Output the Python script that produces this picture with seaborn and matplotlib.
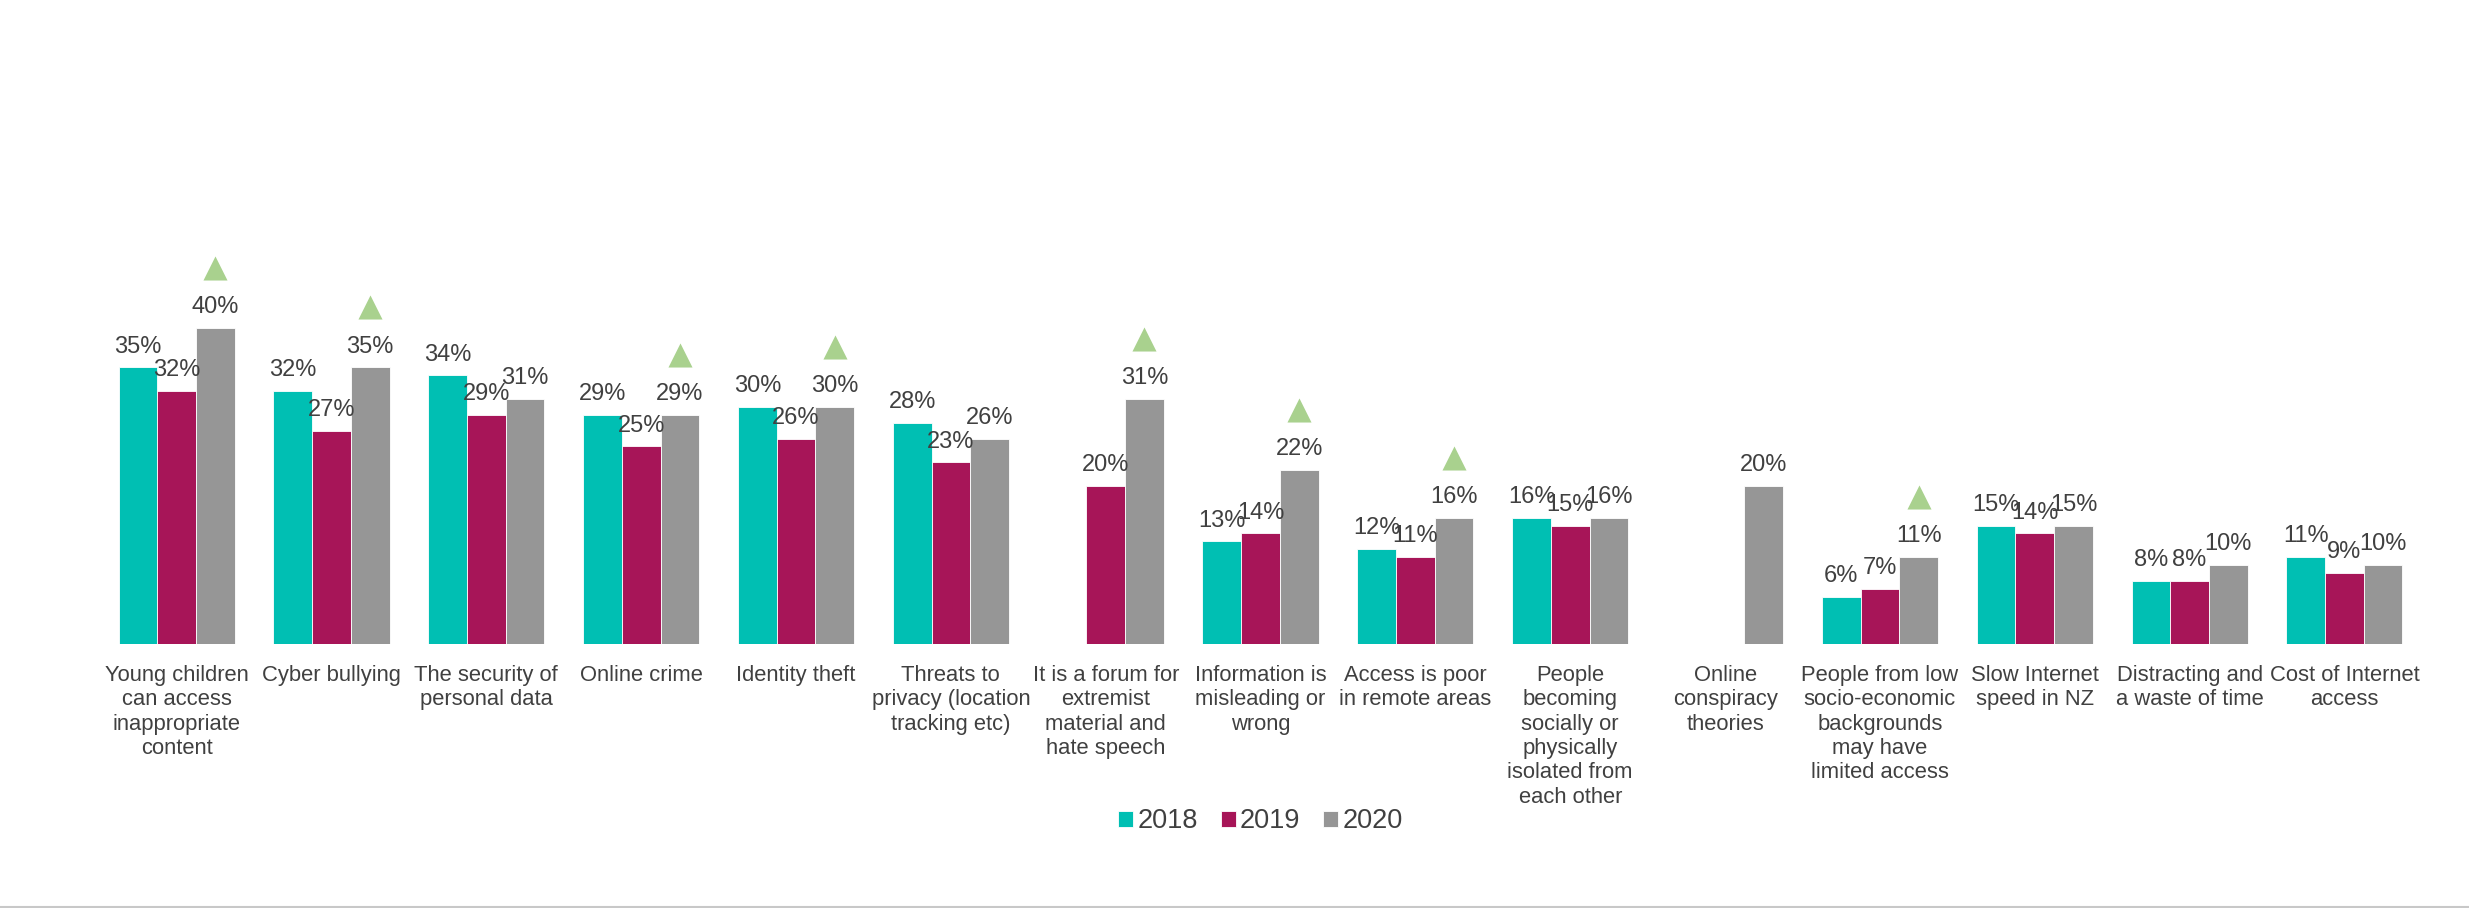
import numpy as np
import pandas as pd
import matplotlib
matplotlib.use("Agg")
import matplotlib.pyplot as plt
from matplotlib.lines import Line2D
import seaborn as sns

categories = [
    "Young children\ncan access\ninappropriate\ncontent",
    "Cyber bullying",
    "The security of\npersonal data",
    "Online crime",
    "Identity theft",
    "Threats to\nprivacy (location\ntracking etc)",
    "It is a forum for\nextremist\nmaterial and\nhate speech",
    "Information is\nmisleading or\nwrong",
    "Access is poor\nin remote areas",
    "People\nbecoming\nsocially or\nphysically\nisolated from\neach other",
    "Online\nconspiracy\ntheories",
    "People from low\nsocio-economic\nbackgrounds\nmay have\nlimited access",
    "Slow Internet\nspeed in NZ",
    "Distracting and\na waste of time",
    "Cost of Internet\naccess",
]
years = ["2018", "2019", "2020"]
values_2018 = [35, 32, 34, 29, 30, 28, np.nan, 13, 12, 16, np.nan, 6, 15, 8, 11]
values_2019 = [32, 27, 29, 25, 26, 23, 20, 14, 11, 15, np.nan, 7, 14, 8, 9]
values_2020 = [40, 35, 31, 29, 30, 26, 31, 22, 16, 16, 20, 11, 15, 10, 10]
# significant increase in 2020
increase_2020 = [True, True, False, True, True, False, True, True, True,
                 False, False, True, False, False, False]

colors = ["#00BFB3", "#A71558", "#969696"]
text_color = "#404040"
arrow_color = "#A9D18E"

df = pd.DataFrame({
    "category": categories * 3,
    "year": sum([[y] * len(categories) for y in years], []),
    "value": values_2018 + values_2019 + values_2020,
})

sns.set_theme(style="white")
plt.rcParams["font.family"] = ["Liberation Sans", "DejaVu Sans"]

fig = plt.figure(figsize=(24.69, 9.08), dpi=100)
ax = fig.add_axes([0.0402, 0.2907, 0.9407, 0.7093])

sns.barplot(data=df, x="category", y="value", hue="year", order=categories,
            hue_order=years, palette=colors, width=0.75, errorbar=None,
            saturation=1, edgecolor="white", linewidth=0.6, ax=ax)

ax.set_xlim(-0.5, len(categories) - 0.5)
ax.set_ylim(0, 81.5)
ax.set_xlabel("")
ax.set_ylabel("")
ax.set_yticks([])
for s in ax.spines.values():
    s.set_visible(False)
ax.tick_params(axis="x", length=0, pad=15, labelsize=15.8, labelcolor=text_color)
for lab in ax.get_xticklabels():
    lab.set_linespacing(1.21)

for cont in ax.containers:
    ax.bar_label(cont, fmt="%.0f%%", padding=7, fontsize=17, color=text_color)

# markers above 2020 bars with a significant increase
bars_2020 = ax.containers[2]
for bar, flag in zip(bars_2020, increase_2020):
    if flag:
        x = bar.get_x() + bar.get_width() / 2
        ax.scatter([x], [bar.get_height() + 7.6], marker="^", s=300,
                   color=arrow_color, linewidths=0, clip_on=False, zorder=5)

handles, labels = ax.get_legend_handles_labels()
if ax.legend_:
    ax.legend_.remove()
fig.legend(handles, labels, loc="center", bbox_to_anchor=(0.5105, 0.0955),
           ncol=3, frameon=False, fontsize=19.5, handlelength=0.55,
           handleheight=0.55, handletextpad=0.15, columnspacing=0.85,
           labelcolor=text_color)

fig.add_artist(Line2D([0, 1], [0.0012, 0.0012], transform=fig.transFigure,
                      color="#C8C8C8", linewidth=1.5))

fig.savefig("out.png", dpi=100, facecolor="white")
